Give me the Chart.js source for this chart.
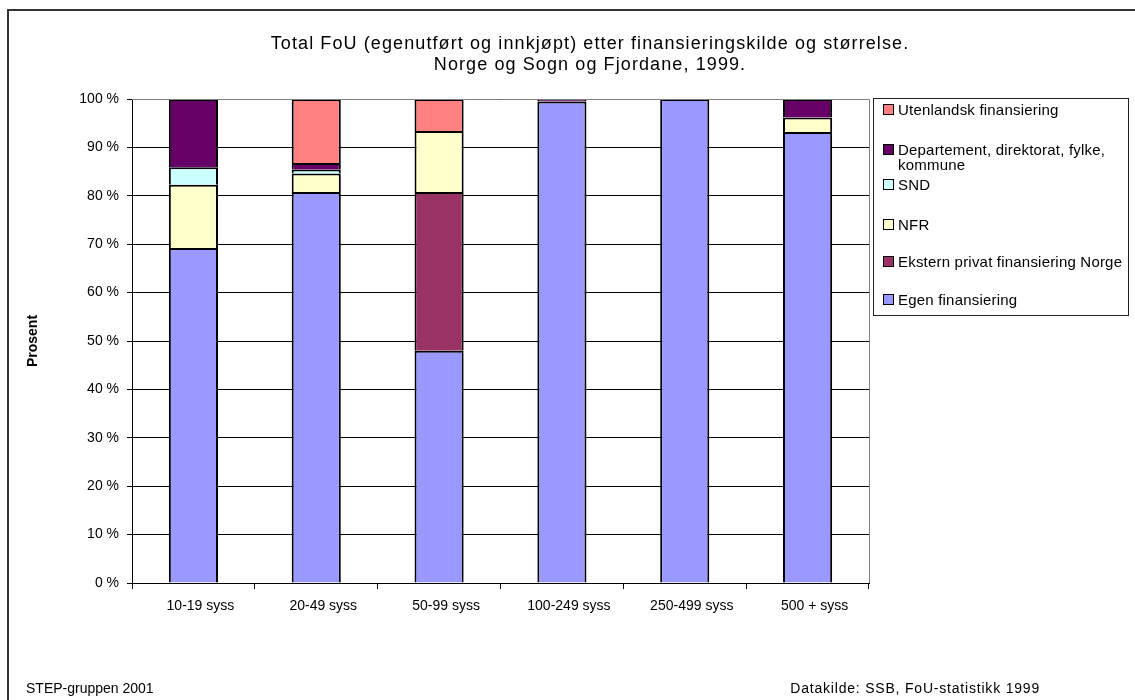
<!DOCTYPE html>
<html lang="no">
<head>
<meta charset="UTF-8">
<title>Total FoU etter finansieringskilde</title>
<script src="https://cdn.jsdelivr.net/npm/chart.js"></script>
<style>
  html, body { margin: 0; padding: 0; background: #fff; overflow: hidden; }
  body { width: 1135px; height: 700px; position: relative; font-family: "Liberation Sans", Arial, sans-serif; }
  #chart { position: absolute; left: 0; top: 0; }
  .frame { position: absolute; left: 7px; top: 9px; width: 1200px; height: 800px;
           border-top: 2px solid #333; border-left: 2px solid #333; pointer-events: none; }
  .legend { position: absolute; left: 873px; top: 98px; width: 256px; height: 218px;
            border: 1px solid #222; box-sizing: border-box; }
  .legend ul { list-style: none; margin: 0; padding: 0; }
  .legend li { position: absolute; left: 9px; width: 240px; display: flex; align-items: flex-start;
               font-size: 15px; line-height: 15px; letter-spacing: 0.2px; color: #000; }
  .legend .box { display: inline-block; width: 9px; height: 9px; border: 1px solid #000;
                 margin: 2px 4px 0 0; flex: none; }
  .note { position: absolute; font-size: 14px; color: #000; top: 680px; }
</style>
</head>
<body>
<canvas id="chart" width="1135" height="700"></canvas>
<div id="legend-container" class="legend"></div>
<div class="note" style="left: 26px;">STEP-gruppen 2001</div>
<div class="note" style="right: 95px; letter-spacing: 0.8px;">Datakilde: SSB, FoU-statistikk 1999</div>
<div class="frame"></div>

<script>
  // andel av total FoU per finansieringskilde, prosent
  const categories = ['10-19 syss', '20-49 syss', '50-99 syss', '100-249 syss', '250-499 syss', '500 + syss'];
  const egen       = [69.2, 80.8, 48.0, 99.5, 100, 93.2];
  const ekstern    = [0, 0, 32.8, 0, 0, 0];
  const nfr        = [13.1, 3.8, 12.6, 0, 0, 3.0];
  const snd        = [3.6, 0.8, 0, 0, 0, 0];
  const dept       = [14.1, 1.4, 0, 0.5, 0, 3.8];
  const utenlandsk = [0, 13.2, 6.6, 0, 0, 0];
  const yTicks     = [0, 10, 20, 30, 40, 50, 60, 70, 80, 90, 100];

  const titleLines = [
    'Total FoU (egenutført og innkjøpt) etter finansieringskilde og størrelse.',
    'Norge og Sogn og Fjordane, 1999.'
  ];

  const FONT = '"Liberation Sans", Arial, sans-serif';

  // rader i legenden (toppen av hver rad)
  const legendRowTop = [3, 43, 78, 118, 155, 193];

  const htmlLegendPlugin = {
    id: 'htmlLegend',
    afterUpdate(chart, args, options) {
      const box = document.getElementById(options.containerID);
      box.innerHTML = '';
      const ul = document.createElement('ul');
      const items = chart.options.plugins.legend.labels.generateLabels(chart).reverse();
      items.forEach((item, i) => {
        const li = document.createElement('li');
        li.style.top = legendRowTop[i] + 'px';
        const sw = document.createElement('span');
        sw.className = 'box';
        sw.style.background = item.fillStyle;
        const txt = document.createElement('span');
        txt.textContent = item.text;
        li.appendChild(sw);
        li.appendChild(txt);
        ul.appendChild(li);
      });
      box.appendChild(ul);
    }
  };

  // tittel og grå ramme rundt plottområdet
  const decoPlugin = {
    id: 'deco',
    afterDatasetsDraw(chart) {
      const { ctx, chartArea: a } = chart;
      ctx.save();
      ctx.strokeStyle = '#808080';
      ctx.lineWidth = 1;
      ctx.beginPath();
      ctx.moveTo(a.left, a.top + 0.5);
      ctx.lineTo(a.right + 0.5, a.top + 0.5);
      ctx.lineTo(a.right + 0.5, a.bottom);
      ctx.stroke();
      ctx.restore();
    },
    afterDraw(chart) {
      const ctx = chart.ctx;
      ctx.save();
      ctx.fillStyle = '#000';
      ctx.font = '18px ' + FONT;
      ctx.letterSpacing = '1.1px';
      ctx.textAlign = 'center';
      ctx.textBaseline = 'middle';
      ctx.fillText(titleLines[0], 590, 44);
      ctx.fillText(titleLines[1], 590, 65);
      ctx.restore();
    }
  };

  // hvert segment tegner kant oppe og på sidene; skillelinjen blir dermed 2 px
  const mk = (label, data, color) => ({
    label, data, backgroundColor: color, borderColor: '#000',
    borderWidth: { top: 2, bottom: 0, left: 2, right: 2 }, borderSkipped: false
  });

  const chart = new Chart(document.getElementById('chart'), {
    type: 'bar',
    data: {
      labels: categories,
      datasets: [
        mk('Egen finansiering', egen, '#9999FF'),
        mk('Ekstern privat finansiering Norge', ekstern, '#993366'),
        mk('NFR', nfr, '#FFFFCC'),
        mk('SND', snd, '#CCFFFF'),
        mk('Departement, direktorat, fylke, kommune', dept, '#660066'),
        mk('Utenlandsk finansiering', utenlandsk, '#FF8080')
      ]
    },
    options: {
      responsive: false,
      animation: false,
      devicePixelRatio: 1,
      layout: { padding: { left: 8, top: 99, right: 266, bottom: 77 } },
      datasets: { bar: { barPercentage: 0.4, categoryPercentage: 1 } },
      scales: {
        x: {
          stacked: true,
          afterFit(s) { s.height = 40; },
          grid: { display: true, drawOnChartArea: false, offset: true, tickLength: 6, color: '#000' },
          border: { color: '#000', width: 1 },
          ticks: { color: '#000', font: { family: FONT, size: 14 }, padding: 9, maxRotation: 0, labelOffset: 7 }
        },
        y: {
          stacked: true,
          min: 0,
          max: 100,
          afterFit(s) { s.width = 124; },
          afterBuildTicks(s) { s.ticks = yTicks.map(v => ({ value: v })); },
          grid: { color: '#000', lineWidth: 1, tickLength: 5 },
          border: { color: '#000', width: 1 },
          ticks: { color: '#000', font: { family: FONT, size: 14 }, padding: 8, callback: v => v + ' %' },
          title: { display: true, text: 'Prosent', color: '#000',
                   font: { family: FONT, size: 14, weight: 'bold' }, padding: { top: 17, bottom: 0 } }
        }
      },
      plugins: {
        legend: { display: false },
        tooltip: { enabled: false },
        htmlLegend: { containerID: 'legend-container' }
      }
    },
    plugins: [htmlLegendPlugin, decoPlugin]
  });
</script>
</body>
</html>
